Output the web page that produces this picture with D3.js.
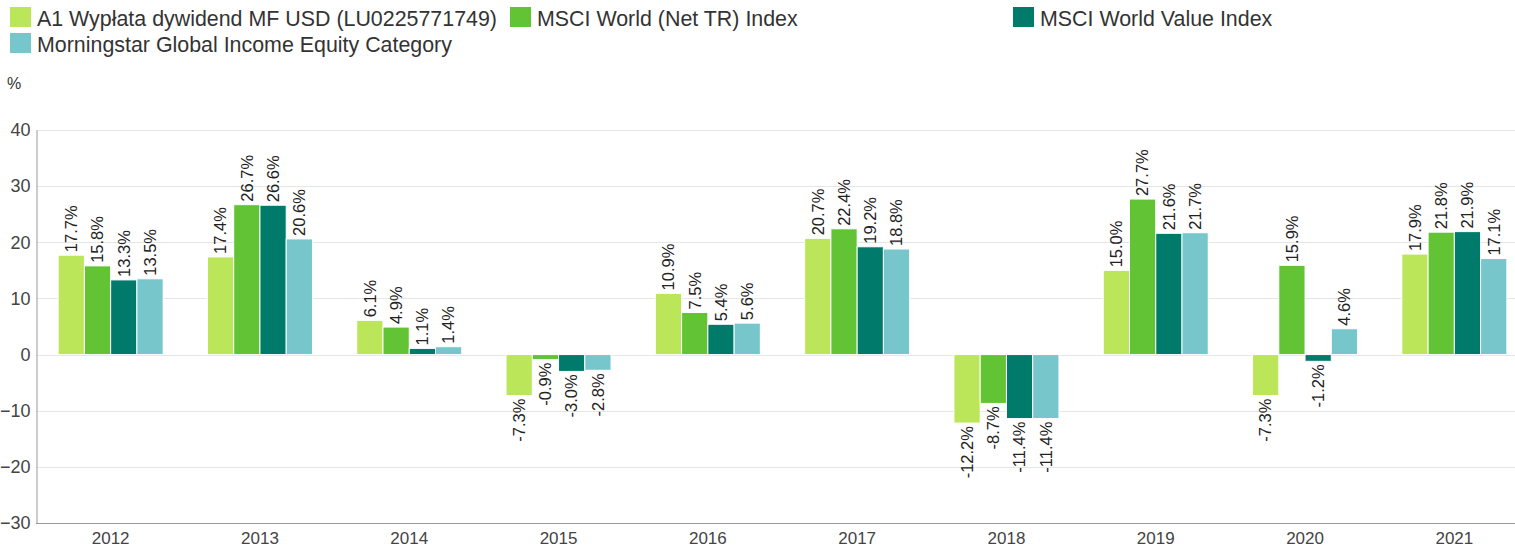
<!DOCTYPE html>
<html><head><meta charset="utf-8">
<script src="https://cdn.jsdelivr.net/npm/d3@7"></script>
<style>
html,body{margin:0;padding:0;background:#fff;}
svg{display:block;font-family:"Liberation Sans",Arial,sans-serif;}
</style></head>
<body>
<svg id="chart" width="1515" height="547"></svg>
<script>
const years = ["2012","2013","2014","2015","2016","2017","2018","2019","2020","2021"];
const seriesNames = [
  "A1 Wypłata dywidend MF USD (LU0225771749)",
  "MSCI World (Net TR) Index",
  "MSCI World Value Index",
  "Morningstar Global Income Equity Category"
];
const seriesColors = ["#bce65a", "#62c434", "#007b6b", "#77c6cc"];
const fundValues   = [17.7, 17.4, 6.1, -7.3, 10.9, 20.7, -12.2, 15.0, -7.3, 17.9];
const worldValues  = [15.8, 26.7, 4.9, -0.9, 7.5, 22.4, -8.7, 27.7, 15.9, 21.8];
const valueValues  = [13.3, 26.6, 1.1, -3.0, 5.4, 19.2, -11.4, 21.6, -1.2, 21.9];
const categoryValues = [13.5, 20.6, 1.4, -2.8, 5.6, 18.8, -11.4, 21.7, 4.6, 17.1];
const yTicks = [40, 30, 20, 10, 0, -10, -20, -30];

const allSeries = [fundValues, worldValues, valueValues, categoryValues];

const svg = d3.select("#chart");
const plotLeft = 36, plotTop = 130, plotBottom = 523, bandRight = 1529;

const x = d3.scaleBand().domain(years).range([plotLeft, bandRight]).paddingInner(0).paddingOuter(0);
const groupW = 105;
const x1 = d3.scaleBand().domain(d3.range(4)).range([0, groupW]);
const y = d3.scaleLinear().domain([-30, 40]).range([plotBottom, plotTop]);

// horizontal grid lines
svg.append("g").selectAll("line").data(yTicks.filter(d => d !== -30)).join("line")
  .attr("x1", plotLeft).attr("x2", 1515)
  .attr("y1", d => Math.round(y(d)) + 0.5).attr("y2", d => Math.round(y(d)) + 0.5)
  .attr("stroke", "#e6e6e6").attr("stroke-width", 1);

// y axis
const yAxis = svg.append("g").attr("transform", `translate(${plotLeft + 0.5},0)`)
  .call(d3.axisLeft(y).tickValues(yTicks).tickSize(0).tickPadding(6).tickFormat(d3.format("d")));
yAxis.select(".domain").attr("stroke", "#999");
yAxis.selectAll("text").attr("font-size", 18).attr("fill", "#444")
  .attr("font-family", "Liberation Sans, Arial, sans-serif");

// x axis
const xAxis = svg.append("g").attr("transform", `translate(0,${plotBottom + 0.5})`)
  .call(d3.axisBottom(x).tickSize(0).tickPadding(8));
xAxis.select(".domain").attr("stroke", "#999").attr("d", `M${plotLeft},0H1515`);
xAxis.selectAll("text").attr("font-size", 17).attr("fill", "#444")
  .attr("font-family", "Liberation Sans, Arial, sans-serif");

// "%" unit
svg.append("text").attr("x", 7).attr("y", 89).attr("font-size", 16).attr("fill", "#333").text("%");

// bars
const groups = svg.append("g").selectAll("g").data(years).join("g")
  .attr("transform", d => `translate(${x(d) + (x.bandwidth() - groupW) / 2},0)`);

groups.each(function(yr, i) {
  const g = d3.select(this);
  allSeries.forEach((vals, s) => {
    const v = vals[i];
    const y0 = y(0), yv = y(v);
    g.append("rect")
      .attr("x", x1(s)).attr("width", x1.bandwidth())
      .attr("y", Math.min(y0, yv)).attr("height", Math.abs(yv - y0))
      .attr("fill", seriesColors[s]).attr("stroke", "#fff").attr("stroke-width", 1);
    const cx = x1(s) + x1.bandwidth() / 2;
    const ty = v >= 0 ? yv - 3 : yv + 3;
    g.append("text")
      .attr("transform", `translate(${cx},${ty}) rotate(-90)`)
      .attr("text-anchor", v >= 0 ? "start" : "end")
      .attr("dy", "0.35em")
      .attr("font-size", 16.5).attr("fill", "#222")
      .text(v.toFixed(1) + "%");
  });
});

// legend
const legendPos = [[10, 7], [510, 7], [1013, 7], [10, 33]];
const lg = svg.append("g").selectAll("g").data(seriesNames).join("g")
  .attr("transform", (d, i) => `translate(${legendPos[i][0]},${legendPos[i][1]})`);
lg.append("rect").attr("width", 21).attr("height", 20).attr("fill", (d, i) => seriesColors[i]);
lg.append("text").attr("x", 27).attr("y", 18.5).attr("font-size", 21.4).attr("fill", "#333").text(d => d);
</script>
</body></html>
